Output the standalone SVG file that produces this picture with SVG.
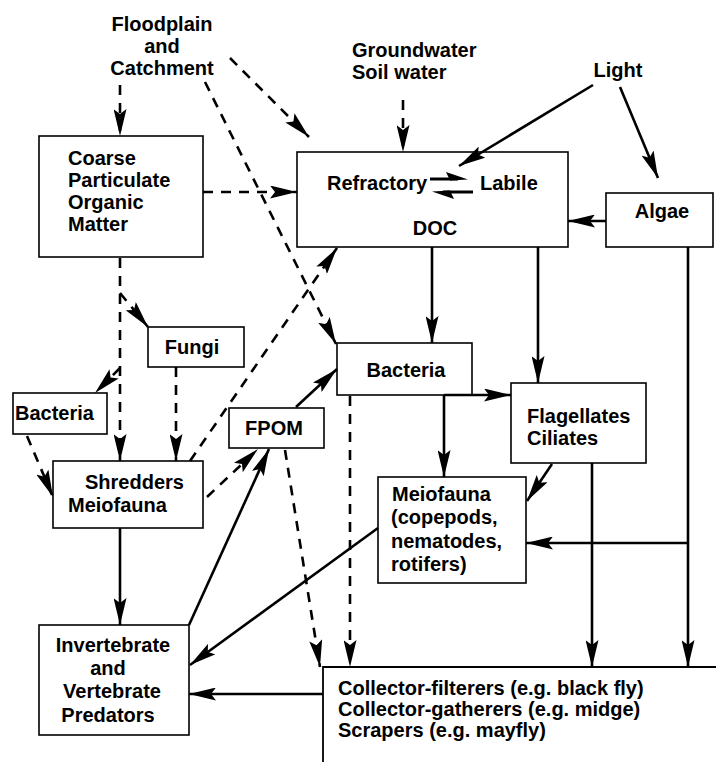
<svg xmlns="http://www.w3.org/2000/svg" width="716" height="762" viewBox="0 0 716 762">
<style>
.t{font-family:"Liberation Sans",Arial,sans-serif;font-weight:bold;font-size:20px;fill:#000}
.c{text-anchor:middle}
.box{fill:none;stroke:#000;stroke-width:1.6}
.s{fill:none;stroke:#000;stroke-width:2.6}
.d{fill:none;stroke:#000;stroke-width:2.6;stroke-dasharray:10 8}
.a{marker-end:url(#ah)}
</style>
<defs>
<marker id="ah" viewBox="0 0 27 13" refX="27" refY="6.5" markerWidth="27" markerHeight="13" markerUnits="userSpaceOnUse" orient="auto">
<path d="M0,0 L27,6.5 L0,13 L5,6.5 z" fill="#000"/>
</marker>
</defs>
<rect width="716" height="762" fill="#fff"/>

<g id="floodplain">
<text class="t c" x="162" y="31">Floodplain</text>
<text class="t c" x="162" y="53">and</text>
<text class="t c" x="162" y="75">Catchment</text>
</g>

<g id="groundwater">
<text class="t" x="352" y="57">Groundwater</text>
<text class="t" x="352" y="79">Soil water</text>
</g>

<g id="light">
<text class="t c" x="618" y="77">Light</text>
</g>

<g id="cpom">
<rect class="box" x="39" y="136" width="164" height="121"/>
<text class="t" x="68" y="165">Coarse</text>
<text class="t" x="68" y="187">Particulate</text>
<text class="t" x="68" y="209">Organic</text>
<text class="t" x="68" y="231">Matter</text>
</g>

<g id="doc">
<rect class="box" x="297" y="152" width="271" height="95"/>
<text class="t" x="327" y="190">Refractory</text>
<text class="t" x="480" y="190">Labile</text>
<path d="M430,179 L458,179" fill="none" stroke="#000" stroke-width="3"/>
<path d="M468,179.5 L446,172 L450,180.5 z" fill="#000"/>
<path d="M443,192 L473,192" fill="none" stroke="#000" stroke-width="3"/>
<path d="M432,191.5 L454,199 L450,190.5 z" fill="#000"/>
<text class="t c" x="435" y="235">DOC</text>
</g>

<g id="algae">
<rect class="box" x="606" y="193" width="107" height="54"/>
<text class="t c" x="662" y="218">Algae</text>
</g>

<g id="fungi">
<rect class="box" x="148" y="327" width="96" height="40"/>
<text class="t c" x="192" y="354">Fungi</text>
</g>

<g id="bacteria-left">
<rect class="box" x="13" y="393" width="94" height="41"/>
<text class="t" x="15" y="420">Bacteria</text>
</g>

<g id="fpom">
<rect class="box" x="229" y="408" width="95" height="40"/>
<text class="t c" x="274" y="435">FPOM</text>
</g>

<g id="bacteria-centre">
<rect class="box" x="337" y="343" width="135" height="52"/>
<text class="t c" x="406" y="377">Bacteria</text>
</g>

<g id="flagellates">
<rect class="box" x="511" y="383" width="135" height="80"/>
<text class="t" x="527" y="423">Flagellates</text>
<text class="t" x="527" y="445">Ciliates</text>
</g>

<g id="shredders">
<rect class="box" x="53" y="461" width="150" height="67"/>
<text class="t" x="85" y="489">Shredders</text>
<text class="t" x="68" y="512">Meiofauna</text>
</g>

<g id="meiofauna">
<rect class="box" x="378" y="477" width="148" height="106"/>
<text class="t" x="392" y="501">Meiofauna</text>
<text class="t" x="391" y="524">(copepods,</text>
<text class="t" x="391" y="548">nematodes,</text>
<text class="t" x="391" y="571">rotifers)</text>
</g>

<g id="predators">
<rect class="box" x="39" y="625" width="150" height="110"/>
<text class="t c" x="113" y="652">Invertebrate</text>
<text class="t c" x="108" y="675">and</text>
<text class="t c" x="112" y="698">Vertebrate</text>
<text class="t c" x="108" y="722">Predators</text>
</g>

<g id="collectors">
<path d="M323,762 L323,667 L716,667" fill="none" stroke="#000" stroke-width="1.8"/>
<text class="t" x="338" y="695">Collector-filterers (e.g. black fly)</text>
<text class="t" x="338" y="716">Collector-gatherers (e.g. midge)</text>
<text class="t" x="338" y="737">Scrapers (e.g. mayfly)</text>
</g>

<g id="connectors">
<path class="d a" d="M120,85 L120,136"/>
<path class="d a" d="M230,58 L309,137"/>
<path class="d a" d="M205,82 L336,344"/>
<path class="d a" d="M403,100 L403,152"/>
<path class="s a" d="M593,85 L459,166"/>
<path class="s a" d="M620,87 L658,178"/>
<path class="s a" d="M606,221 L568,221"/>
<path class="d a" d="M203,192 L297,192"/>
<path class="s a" d="M432,247 L432,343"/>
<path class="s a" d="M538,247 L538,383"/>
<path class="s a" d="M688,247 L688,667"/>
<path class="s a" d="M688,543 L526,543"/>
<path class="s a" d="M592,463 L592,667"/>
<path class="s a" d="M552,464 L527,501"/>
<path class="s a" d="M444,395 L511,395"/>
<path class="s a" d="M444,395 L444,477"/>
<path class="d a" d="M350,396 L350,667"/>
<path class="d a" d="M285,450 L320,667"/>
<path class="s a" d="M296,407 L337,369"/>
<path class="s a" d="M189,625 L269,449"/>
<path class="d a" d="M207,497 L258,449"/>
<path class="d a" d="M190,461 L337,248"/>
<path class="d a" d="M120,258 L120,461"/>
<path class="d a" d="M120,293 L148,327"/>
<path class="d a" d="M176,367 L176,461"/>
<path class="d a" d="M120,368 L95,393"/>
<path class="d a" d="M27,436 L53,497"/>
<path class="s a" d="M120,528 L120,625"/>
<path class="s a" d="M378,528 L190,665"/>
<path class="s a" d="M323,694 L189,694"/>
</g>
</svg>
